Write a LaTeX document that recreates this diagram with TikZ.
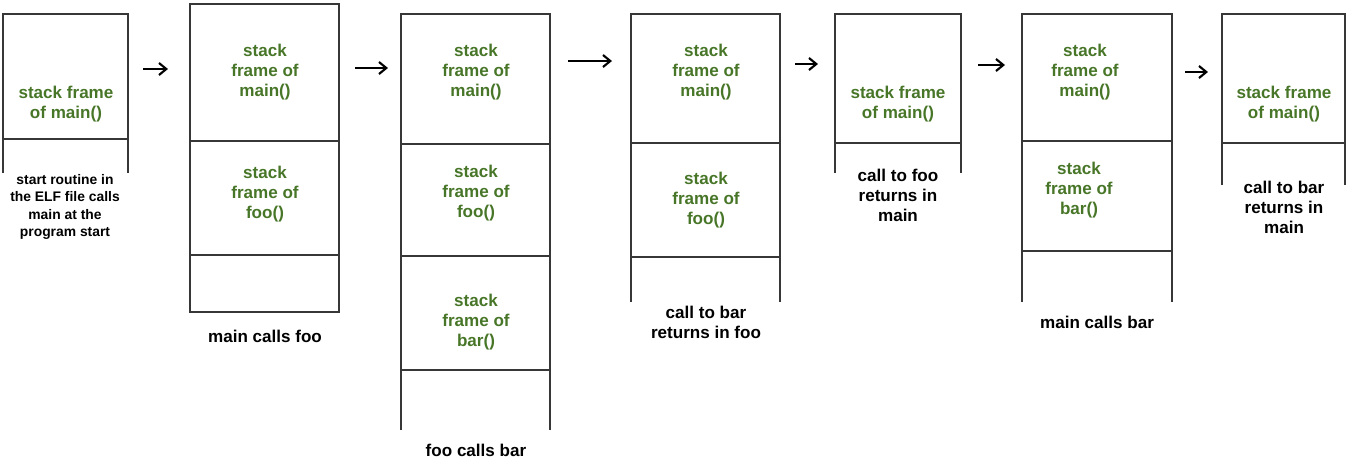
\documentclass[tikz,border=0pt]{standalone}
\usepackage{fontspec}
\setmainfont{Liberation Sans}
\usepackage{tikz}
\usepackage{xcolor}
\usetikzlibrary{arrows.meta}
\definecolor{framegreen}{RGB}{72, 118, 40}
\definecolor{stackgray}{RGB}{55, 55, 55}

\begin{document}
\begin{tikzpicture}[x=0.75pt, y=-0.75pt,
    wall/.style={line width=1.5pt, stackgray},
    frametxt/.style={text=framegreen, align=center, inner sep=0pt,
        font=\bfseries\fontsize{12.8}{15}\selectfont},
    caption/.style={align=center, inner sep=0pt,
        font=\bfseries\fontsize{12.8}{15}\selectfont},
    smallcap/.style={align=center, inner sep=0pt,
        font=\bfseries\fontsize{10.4}{13}\selectfont},
    step arrow/.style={-{Straight Barb[length=5.5pt, width=9pt]}, line width=1.6pt, black}]
    \useasboundingbox (0,0) rectangle (1346,462);

    % Stack 1: program start
    \draw[wall] (3,173) -- (3,14) -- (128,14) -- (128,173);
    \draw[wall] (3,139) -- (128,139);
    \node[frametxt] (s1main) at (66,104) {stack frame\\of main()};
    \node[smallcap] (s1cap) at (65,207) {start routine in\\the ELF file calls\\main at the\\program start};

    % Arrow
    \coordinate (a1s) at (143,69);
    \coordinate (a1e) at (168,69);
    \draw[step arrow] (a1s) -- (a1e);

    % Stack 2: main calls foo
    \draw[wall] (190,4) rectangle (339,312);
    \draw[wall] (190,141) -- (339,141);
    \draw[wall] (190,255) -- (339,255);
    \node[frametxt] (s2main) at (265,72) {stack\\frame of\\main()};
    \node[frametxt] (s2foo) at (265,194) {stack\\frame of\\foo()};
    \node[caption] (s2cap) at (265,336) {main calls foo};

    % Arrow
    \coordinate (a2s) at (355,68);
    \coordinate (a2e) at (388,68);
    \draw[step arrow] (a2s) -- (a2e);

    % Stack 3: foo calls bar
    \draw[wall] (401,430) -- (401,14) -- (550,14) -- (550,430);
    \draw[wall] (401,144) -- (550,144);
    \draw[wall] (401,256) -- (550,256);
    \draw[wall] (401,370) -- (550,370);
    \node[frametxt] (s3main) at (476,72) {stack\\frame of\\main()};
    \node[frametxt] (s3foo) at (476,193) {stack\\frame of\\foo()};
    \node[frametxt] (s3bar) at (476,322) {stack\\frame of\\bar()};
    \node[caption] (s3cap) at (476,450) {foo calls bar};

    % Arrow
    \coordinate (a3s) at (568,61);
    \coordinate (a3e) at (612,61);
    \draw[step arrow] (a3s) -- (a3e);

    % Stack 4: back in foo
    \draw[wall] (631,302) -- (631,14) -- (780,14) -- (780,302);
    \draw[wall] (631,143) -- (780,143);
    \draw[wall] (631,257) -- (780,257);
    \node[frametxt] (s4main) at (706,72) {stack\\frame of\\main()};
    \node[frametxt] (s4foo) at (706,200) {stack\\frame of\\foo()};
    \node[caption] (s4cap) at (706,322) {call to bar\\returns in foo};

    % Arrow
    \coordinate (a4s) at (795,64);
    \coordinate (a4e) at (818,64);
    \draw[step arrow] (a4s) -- (a4e);

    % Stack 5: back in main
    \draw[wall] (835,173) -- (835,14) -- (961,14) -- (961,173);
    \draw[wall] (835,143) -- (961,143);
    \node[frametxt] (s5main) at (898,104) {stack frame\\of main()};
    \node[caption] (s5cap) at (898,195) {call to foo\\returns in\\main};

    % Arrow
    \coordinate (a5s) at (978,65);
    \coordinate (a5e) at (1005,65);
    \draw[step arrow] (a5s) -- (a5e);

    % Stack 6: main calls bar
    \draw[wall] (1022,302) -- (1022,14) -- (1172,14) -- (1172,302);
    \draw[wall] (1022,141) -- (1172,141);
    \draw[wall] (1022,251) -- (1172,251);
    \node[frametxt] (s6main) at (1085,72) {stack\\frame of\\main()};
    \node[frametxt] (s6bar) at (1079,190) {stack\\frame of\\bar()};
    \node[caption] (s6cap) at (1097,322) {main calls bar};

    % Arrow
    \coordinate (a6s) at (1185,72);
    \coordinate (a6e) at (1208,72);
    \draw[step arrow] (a6s) -- (a6e);

    % Stack 7: back in main again
    \draw[wall] (1222,185) -- (1222,14) -- (1345,14) -- (1345,185);
    \draw[wall] (1222,143) -- (1345,143);
    \node[frametxt] (s7main) at (1284,104) {stack frame\\of main()};
    \node[caption] (s7cap) at (1284,207) {call to bar\\returns in\\main};
\end{tikzpicture}
\end{document}
